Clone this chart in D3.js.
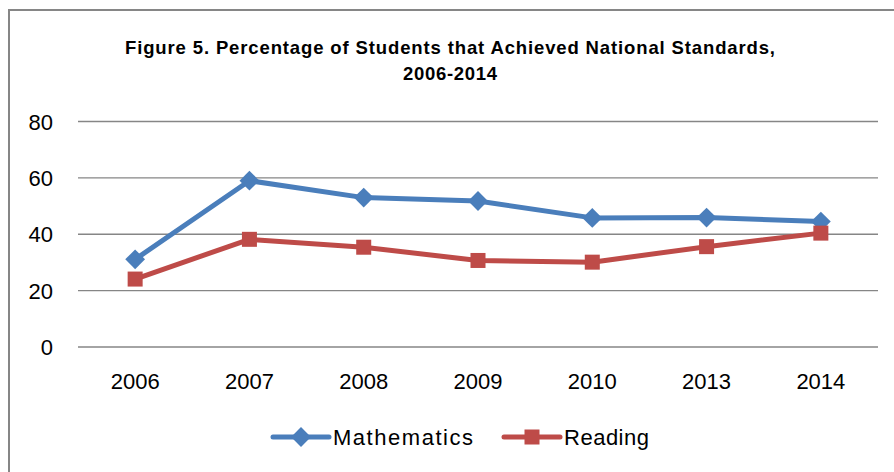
<!DOCTYPE html>
<html>
<head>
<meta charset="utf-8">
<script src="https://cdn.jsdelivr.net/npm/d3@7"></script>
<style>
  html, body { margin: 0; padding: 0; background: #fff; }
  svg { display: block; }
</style>
</head>
<body>
<svg id="chart" width="894" height="472"></svg>
<script>
const categories = ["2006", "2007", "2008", "2009", "2010", "2013", "2014"];
const mathematics = [31.1, 59.0, 53.0, 51.8, 45.8, 45.9, 44.5];
const reading = [24.1, 38.2, 35.4, 30.7, 30.1, 35.6, 40.4];
const yTicks = [0, 20, 40, 60, 80];
const titleLines = ["Figure 5. Percentage of Students that Achieved National Standards,", "2006-2014"];
const seriesNames = ["Mathematics", "Reading"];

const svg = d3.select("#chart");
const W = 894, H = 472;
const font = "Liberation Sans, Arial, sans-serif";
const blue = "#4A7EBB", red = "#BE4B48", grid = "#868686";

// chart area border
svg.append("path")
  .attr("d", `M9,${H + 5} L9,10 L${W + 5},10`)
  .attr("fill", "none").attr("stroke", grid).attr("stroke-width", 2);

// title
const titleWidths = [650, 94];
svg.append("g").selectAll("text").data(titleLines).join("text")
  .attr("x", 450).attr("y", (d, i) => 54 + i * 26)
  .attr("text-anchor", "middle")
  .attr("font-family", font).attr("font-weight", "bold").attr("font-size", 18.5)
  .attr("textLength", (d, i) => titleWidths[i]).attr("lengthAdjust", "spacing")
  .attr("fill", "#000").text(d => d);

const x = d3.scaleBand().domain(categories).range([78, 878]);
const y = d3.scaleLinear().domain([0, 80]).range([347, 121.5]);

// gridlines
svg.append("g").selectAll("line").data(yTicks).join("line")
  .attr("x1", 78).attr("x2", 878)
  .attr("y1", d => y(d)).attr("y2", d => y(d))
  .attr("stroke", grid).attr("stroke-width", 1.3);

// y axis labels
const yAxis = d3.axisLeft(y).tickValues(yTicks).tickSize(0).tickPadding(0);
const gy = svg.append("g").attr("transform", "translate(53,0)").call(yAxis);
gy.select(".domain").remove();
gy.selectAll("text").attr("font-family", font).attr("font-size", 22).attr("fill", "#000").attr("dy", "0.35em");

// x axis labels
const xAxis = d3.axisBottom(x).tickSize(0).tickPadding(0);
const gx = svg.append("g").attr("transform", "translate(0,373)").call(xAxis);
gx.select(".domain").remove();
gx.selectAll("text").attr("font-family", font).attr("font-size", 22).attr("fill", "#000").attr("dy", "0.71em");

const cx = d => x(d) + x.bandwidth() / 2;
const line = d3.line().x(d => cx(d.c)).y(d => y(d.v));

function series(vals, color, marker) {
  const data = categories.map((c, i) => ({ c, v: vals[i] }));
  svg.append("path").datum(data).attr("d", line)
    .attr("fill", "none").attr("stroke", color).attr("stroke-width", 5)
    .attr("stroke-linejoin", "round").attr("stroke-linecap", "round");
  const g = svg.append("g");
  if (marker === "diamond") {
    g.selectAll("path").data(data).join("path")
      .attr("d", d3.symbol(d3.symbolSquare, 196)())
      .attr("transform", d => `translate(${cx(d.c)},${y(d.v)}) rotate(45)`)
      .attr("fill", color);
  } else {
    g.selectAll("rect").data(data).join("rect")
      .attr("x", d => cx(d.c) - 7.5).attr("y", d => y(d.v) - 7.5)
      .attr("width", 15).attr("height", 15).attr("fill", color);
  }
}
series(mathematics, blue, "diamond");
series(reading, red, "square");

// legend
const legend = [
  { name: seriesNames[0], color: blue, marker: "diamond", x0: 273, w: 140 },
  { name: seriesNames[1], color: red, marker: "square", x0: 504, w: 85 }
];
const ly = 437;
legend.forEach(l => {
  svg.append("line").attr("x1", l.x0).attr("x2", l.x0 + 56).attr("y1", ly).attr("y2", ly)
    .attr("stroke", l.color).attr("stroke-width", 5).attr("stroke-linecap", "round");
  if (l.marker === "diamond") {
    svg.append("path").attr("d", d3.symbol(d3.symbolSquare, 196)())
      .attr("transform", `translate(${l.x0 + 28},${ly}) rotate(45)`).attr("fill", l.color);
  } else {
    svg.append("rect").attr("x", l.x0 + 28 - 7.5).attr("y", ly - 7.5)
      .attr("width", 15).attr("height", 15).attr("fill", l.color);
  }
  svg.append("text").attr("x", l.x0 + 60).attr("y", ly).attr("dy", "0.35em")
    .attr("font-family", font).attr("font-size", 22).attr("fill", "#000")
    .attr("textLength", l.w).attr("lengthAdjust", "spacing").text(l.name);
});
</script>
</body>
</html>
